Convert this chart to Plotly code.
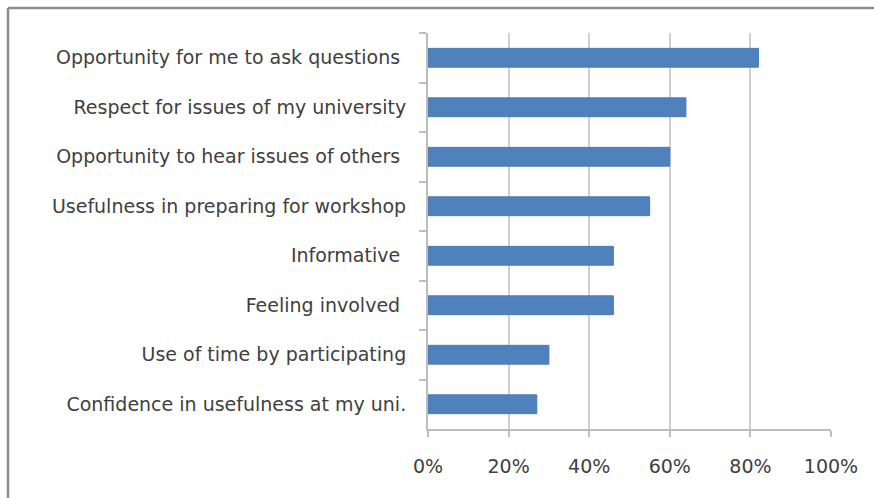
import plotly.graph_objects as go

# Survey items, listed top to bottom
categories = [
    "Opportunity for me to ask questions\u00a0",
    "Respect for issues of my university",
    "Opportunity to hear issues of others\u00a0",
    "Usefulness in preparing for workshop",
    "Informative\u00a0",
    "Feeling involved\u00a0",
    "Use of time by participating",
    "Confidence in usefulness at my uni.",
]
shares = [0.82, 0.64, 0.60, 0.55, 0.46, 0.46, 0.30, 0.27]
x_ticks = [0, 0.2, 0.4, 0.6, 0.8, 1.0]
x_tick_labels = ["0%", "20%", "40%", "60%", "80%", "100%"]

W, H = 874, 498
L, R, T, B = 428, 43, 33, 69
pw, ph = W - L - R, H - T - B

fig = go.Figure(
    go.Bar(
        x=shares,
        y=categories,
        orientation="h",
        marker=dict(color="#4f81bd", line=dict(color="#4a7ab5", width=1)),
        width=0.38,
        hoverinfo="skip",
    )
)

axis_font = dict(family="'DejaVu Sans', sans-serif", size=19, color="#404040")

fig.update_layout(
    width=W,
    height=H,
    margin=dict(l=L, r=R, t=T, b=B, pad=0),
    paper_bgcolor="white",
    plot_bgcolor="white",
    showlegend=False,
    xaxis=dict(
        range=[0, 1],
        tickvals=x_ticks,
        ticktext=x_tick_labels,
        showgrid=True,
        gridcolor="#cfcfcf",
        gridwidth=2,
        zeroline=False,
        showline=True,
        linecolor="#bdbdbd",
        linewidth=2,
        ticks="outside",
        ticklen=6,
        tickwidth=1.5,
        tickcolor="#bdbdbd",
        tickfont=axis_font,
        ticklabelstandoff=13,
        fixedrange=True,
    ),
    yaxis=dict(
        autorange="reversed",
        showgrid=False,
        zeroline=False,
        showline=True,
        linecolor="#bdbdbd",
        linewidth=2,
        ticks="outside",
        tickson="boundaries",
        ticklen=7,
        tickwidth=1.5,
        tickcolor="#bdbdbd",
        tickfont=axis_font,
        ticklabelstandoff=16,
        fixedrange=True,
    ),
)

# Chart frame: top and left edges of the border around the chart area
x0 = (8 - L) / pw
y0 = 1 + (T - 8) / ph
fig.add_shape(type="line", xref="paper", yref="paper",
              x0=x0, y0=y0, x1=(W - L) / pw + 0.05, y1=y0,
              line=dict(color="#8c8c8c", width=2.5))
fig.add_shape(type="line", xref="paper", yref="paper",
              x0=x0, y0=y0, x1=x0, y1=-(B + 5) / ph,
              line=dict(color="#8c8c8c", width=2.5))

fig.write_html("out.html", config=dict(displayModeBar=False))
